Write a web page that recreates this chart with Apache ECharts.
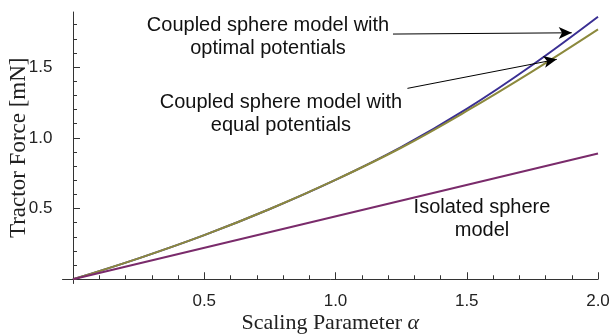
<!DOCTYPE html>
<html><head><meta charset="utf-8">
<script src="https://cdn.jsdelivr.net/npm/echarts@6/dist/echarts.min.js"></script>
<style>html,body{margin:0;padding:0;background:#fff}#c{width:614px;height:336px}</style>
</head><body><div id="c"></div>
<script>
// ---- data ----
const alphaValues   = [0, 0.25, 0.5, 0.75, 1.0, 1.25, 1.5, 1.75, 2.0];
const optimalForce  = [0, 0.148, 0.312, 0.497, 0.703, 0.935, 1.205, 1.515, 1.856];
const equalForce    = [0, 0.148, 0.312, 0.497, 0.703, 0.930, 1.190, 1.470, 1.767];
const isolatedAlpha = [0, 2.0];
const isolatedForce = [0, 0.89];

const xTickValues  = [0.5, 1.0, 1.5, 2.0];
const yTickValues  = [0.5, 1.0, 1.5];
const xMinorValues = [0.1,0.2,0.3,0.4,0.6,0.7,0.8,0.9,1.1,1.2,1.3,1.4,1.6,1.7,1.8,1.9];
const yMinorValues = [0.1,0.2,0.3,0.4,0.6,0.7,0.8,0.9,1.1,1.2,1.3,1.4,1.6,1.7,1.8];

const seriesNames = ['Coupled sphere model with optimal potentials',
                     'Coupled sphere model with equal potentials',
                     'Isolated sphere model'];
const annotationTexts  = ['Coupled sphere model with\noptimal potentials',
                          'Coupled sphere model with\nequal potentials',
                          'Isolated sphere\nmodel'];
const annotationCoords = [[0.743, 1.712], [0.792, 1.172], [1.558, 0.424]];
const arrowStarts = [[1.219, 1.734], [1.274, 1.350]];
const arrowEnds   = [[1.900, 1.743], [1.843, 1.555]];

const xMin = -0.04, xMax = 2.0, yMin = -0.03, yMax = 1.89;

// ---- chart ----
const zip = (xs, ys) => xs.map((x, i) => [x, ys[i]]);
const chart = echarts.init(document.getElementById('c'), null, {renderer: 'canvas'});
const axisColor = '#333';
const sans = 'Liberation Sans, Arial, sans-serif';
const serif = 'Liberation Serif, Times New Roman, serif';

chart.setOption({
  animation: false,
  backgroundColor: '#fff',
  grid: {left: 62.5, right: 16, top: 12, bottom: 52.5, containLabel: false, outerBoundsMode: 'none'},
  xAxis: [{
    type: 'value', min: xMin, max: xMax,
    name: 'Scaling Parameter {i|α}', nameLocation: 'middle', nameGap: 29, nameMoveOverlap: false,
    nameTextStyle: {fontFamily: serif, fontSize: 22, color: '#222',
      rich: {i: {fontFamily: serif, fontSize: 22, fontStyle: 'italic', color: '#222'}}},
    axisLine: {show: true, onZero: true, onZeroAxisIndex: 0, lineStyle: {color: axisColor, width: 1}},
    axisTick: {show: true, inside: true, length: 7, customValues: xTickValues,
      lineStyle: {color: axisColor}},
    axisLabel: {show: true, customValues: xTickValues, margin: 9,
      fontFamily: sans, fontSize: 17, color: '#222',
      formatter: v => Number(v).toFixed(1)},
    splitLine: {show: false}
  }, {
    type: 'value', min: xMin, max: xMax, position: 'bottom', offset: 0,
    axisLine: {show: false, onZero: true, onZeroAxisIndex: 0},
    axisTick: {show: true, inside: true, length: 4, customValues: xMinorValues,
      lineStyle: {color: axisColor}},
    axisLabel: {show: false}, splitLine: {show: false}
  }],
  yAxis: [{
    type: 'value', min: yMin, max: yMax,
    name: 'Tractor Force [mN]', nameLocation: 'middle', nameGap: 32, nameMoveOverlap: false,
    nameTextStyle: {fontFamily: serif, fontSize: 23, color: '#222'},
    axisLine: {show: true, onZero: true, onZeroAxisIndex: 0, lineStyle: {color: axisColor, width: 1}},
    axisTick: {show: true, inside: true, length: 7, customValues: yTickValues,
      lineStyle: {color: axisColor}},
    axisLabel: {show: true, customValues: yTickValues, margin: 10,
      fontFamily: sans, fontSize: 17, color: '#222',
      formatter: v => Number(v).toFixed(1)},
    splitLine: {show: false}
  }, {
    type: 'value', min: yMin, max: yMax, position: 'left', offset: 0,
    axisLine: {show: false, onZero: true, onZeroAxisIndex: 0},
    axisTick: {show: true, inside: true, length: 4, customValues: yMinorValues,
      lineStyle: {color: axisColor}},
    axisLabel: {show: false}, splitLine: {show: false}
  }],
  series: [{
    name: seriesNames[0], type: 'line', smooth: 0.4, showSymbol: false,
    data: zip(alphaValues, optimalForce),
    lineStyle: {color: '#3a2f93', width: 2}, itemStyle: {color: '#3a2f93'},
    z: 2
  }, {
    name: seriesNames[1], type: 'line', smooth: 0.4, showSymbol: false,
    data: zip(alphaValues, equalForce),
    lineStyle: {color: '#8c893d', width: 2}, itemStyle: {color: '#8c893d'},
    z: 3
  }, {
    name: seriesNames[2], type: 'line', showSymbol: false,
    data: zip(isolatedAlpha, isolatedForce),
    lineStyle: {color: '#7a2b6b', width: 2}, itemStyle: {color: '#7a2b6b'},
    z: 3,
    markLine: {
      silent: true, symbol: ['none', 'arrow'], symbolSize: [9, 13],
      lineStyle: {color: '#000', width: 1, type: 'solid'},
      label: {show: false},
      data: arrowStarts.map((s, i) => [{coord: s}, {coord: arrowEnds[i]}])
    },
    markPoint: {
      silent: true, symbol: 'circle', symbolSize: 0,
      label: {show: true, position: 'inside', fontFamily: sans, fontSize: 20,
        lineHeight: 23, color: '#111', align: 'center', verticalAlign: 'middle'},
      data: annotationTexts.map((t, i) => ({coord: annotationCoords[i], value: t,
        label: {formatter: t}}))
    }
  }]
});
</script></body></html>
